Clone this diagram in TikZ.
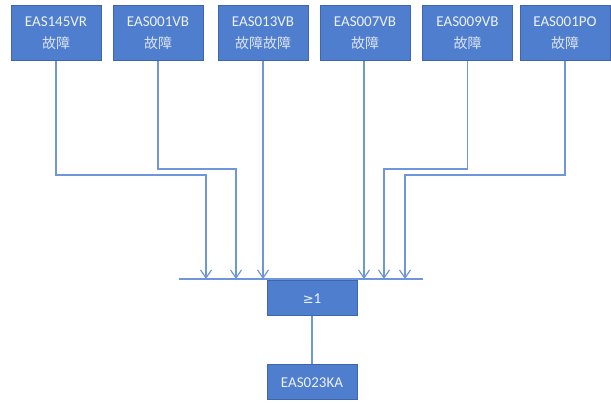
\documentclass[tikz,border=0pt]{standalone}
\usepackage{fontspec}
\setmainfont{Carlito}
\newfontfamily\cjk{Noto Sans CJK SC}
\newfontfamily\symf{DejaVu Sans}
\usetikzlibrary{arrows.meta}
\definecolor{boxfill}{HTML}{4F7ECE}
\definecolor{boxline}{HTML}{3D66AE}
\definecolor{wire}{HTML}{6F96DA}
\definecolor{txt}{HTML}{EEF2FA}
\definecolor{txtcn}{HTML}{DCE4F4}
\tikzset{
  blk/.style={draw=boxline, line width=1pt, fill=boxfill, text=txt, minimum width=90pt, minimum height=55pt, align=center, inner sep=0pt, font=\fontsize{15}{22}\selectfont},
  smallblk/.style={blk, minimum height=35pt},
  wireline/.style={draw=wire, line width=1.4pt},
  arr/.style={wireline, -{Straight Barb[length=8pt, width=11pt, line width=1.2pt]}},
}
\newcommand{\cn}[1]{{\color{txtcn}\fontsize{14}{22}\cjk #1}}
\begin{document}
\begin{tikzpicture}[x=1pt,y=-1pt]
\useasboundingbox (0,0) rectangle (611,403);
\node[blk] (b1) at (56,33) {EAS145VR\\\cn{故障}};
\node[blk] (b2) at (158,33) {EAS001VB\\\cn{故障}};
\node[blk] (b3) at (263,33.5) {EAS013VB\\\cn{故障故障}};
\node[blk] (b4) at (365,33) {EAS007VB\\\cn{故障}};
\node[blk] (b5) at (467.5,33) {EAS009VB\\\cn{故障}};
\node[blk] (b6) at (565,33.5) {EAS001PO\\\cn{故障}};
\coordinate (busL) at (179,279);
\coordinate (busR) at (423,279);
\draw[wireline] (busL) -- (busR);
\node[smallblk] (or) at (312,298.5) {{\symf\fontsize{13}{15}\selectfont ≥}1};
\node[smallblk] (out) at (312,382.5) {EAS023KA};
\coordinate (t1) at (206,279);
\coordinate (t2) at (236,279);
\coordinate (t3) at (263,279);
\coordinate (t4) at (364,279);
\coordinate (t5) at (384,279);
\coordinate (t6) at (405,279);
\draw[arr] (b1.south) |- (206,175) -- (t1);
\draw[arr] (b2.south) |- (236,169) -- (t2);
\draw[arr] (b3.south) -- (t3);
\draw[arr] (b4.south -| t4) -- (t4);
\draw[arr] (b5.south) |- (384,169) -- (t5);
\draw[arr] (b6.south) |- (405,175) -- (t6);
\draw[wireline] (or.south) -- (out.north);
\end{tikzpicture}
\end{document}
